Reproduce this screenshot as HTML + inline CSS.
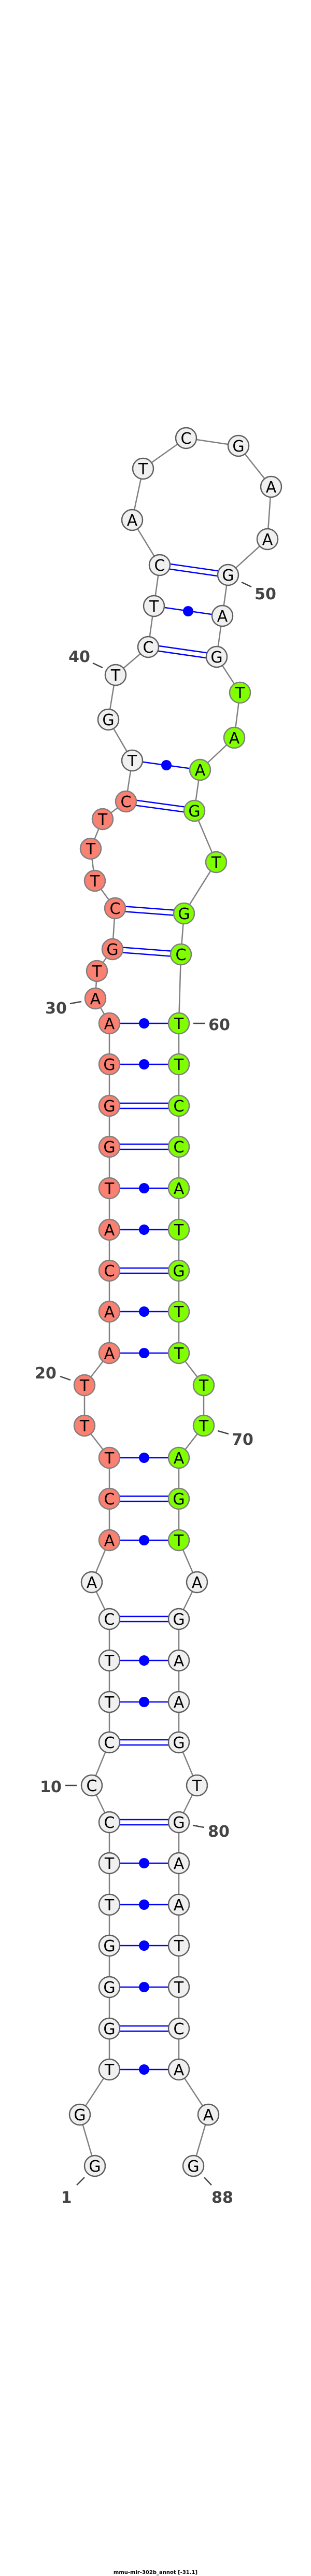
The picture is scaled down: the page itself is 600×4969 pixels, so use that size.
<!DOCTYPE html>
<html><head><meta charset="utf-8"><style>
html,body{margin:0;padding:0;background:#fff;}
svg{display:block;}
.n text{font-family:"DejaVu Sans","Liberation Sans",sans-serif;font-size:30px;text-anchor:middle;fill:#000;}
.lb{font-family:"DejaVu Sans","Liberation Sans",sans-serif;font-size:30px;font-weight:bold;fill:#444;text-anchor:middle;}
</style></head><body>
<svg width="600" height="4969" viewBox="0 0 600 4969" xmlns="http://www.w3.org/2000/svg">
<!-- backbone -->
<polyline fill="none" stroke="#808080" stroke-width="2.5" points="183,4178 154,4079 211,3992 211,3913 211,3833 211,3753 211,3674 211,3594 211,3515 177,3444 211,3361 211,3283 211,3203 211,3123 177,3052 211,2971 211,2891 211,2812 163,2750 163,2672 211,2610 211,2530 211,2451 211,2372 211,2292 211,2212 211,2133 211,2053 211,1974 184,1926 187,1873 217,1831 222,1752 183,1699 175,1637 198,1580 243,1546 255,1467 209,1388 223,1302 286,1248 297,1169 308,1090 255,1003 276,904 359,845 460,860 523,939 516,1040 440,1109 429,1188 418,1267 463,1336 452,1423 386,1485 375,1564 417,1663 355,1762 349,1841 345,1974 345,2053 345,2133 345,2212 345,2292 345,2372 345,2451 345,2530 345,2610 393,2672 393,2750 345,2812 345,2891 345,2971 380,3052 345,3123 345,3203 345,3283 345,3361 380,3444 345,3515 345,3594 345,3674 345,3753 345,3833 345,3913 345,3992 402,4079 373,4178"/>
<!-- pairs: double lines (GC) -->
<g stroke="#0000ff" stroke-width="2.5">
<line x1="211" y1="3908" x2="345" y2="3908"/><line x1="211" y1="3918" x2="345" y2="3918"/>
<line x1="211" y1="3510" x2="345" y2="3510"/><line x1="211" y1="3520" x2="345" y2="3520"/>
<line x1="211" y1="3356" x2="345" y2="3356"/><line x1="211" y1="3366" x2="345" y2="3366"/>
<line x1="211" y1="3118" x2="345" y2="3118"/><line x1="211" y1="3128" x2="345" y2="3128"/>
<line x1="211" y1="2886" x2="345" y2="2886"/><line x1="211" y1="2896" x2="345" y2="2896"/>
<line x1="211" y1="2446" x2="345" y2="2446"/><line x1="211" y1="2456" x2="345" y2="2456"/>
<line x1="211" y1="2207" x2="345" y2="2207"/><line x1="211" y1="2217" x2="345" y2="2217"/>
<line x1="211" y1="2128" x2="345" y2="2128"/><line x1="211" y1="2138" x2="345" y2="2138"/>
<line x1="217" y1="1826" x2="349" y2="1836"/><line x1="217" y1="1836" x2="349" y2="1846"/>
<line x1="222" y1="1747" x2="355" y2="1757"/><line x1="222" y1="1757" x2="355" y2="1767"/>
<line x1="243" y1="1541" x2="375" y2="1559"/><line x1="243" y1="1551" x2="375" y2="1569"/>
<line x1="286" y1="1243" x2="418" y2="1262"/><line x1="286" y1="1253" x2="418" y2="1272"/>
<line x1="308" y1="1085" x2="440" y2="1104"/><line x1="308" y1="1095" x2="440" y2="1114"/>
<!-- single lines (AT / GT) -->
<line x1="211" y1="3992" x2="345" y2="3992"/>
<line x1="211" y1="3833" x2="345" y2="3833"/>
<line x1="211" y1="3753" x2="345" y2="3753"/>
<line x1="211" y1="3674" x2="345" y2="3674"/>
<line x1="211" y1="3594" x2="345" y2="3594"/>
<line x1="211" y1="3283" x2="345" y2="3283"/>
<line x1="211" y1="3203" x2="345" y2="3203"/>
<line x1="211" y1="2971" x2="345" y2="2971"/>
<line x1="211" y1="2812" x2="345" y2="2812"/>
<line x1="211" y1="2610" x2="345" y2="2610"/>
<line x1="211" y1="2530" x2="345" y2="2530"/>
<line x1="211" y1="2372" x2="345" y2="2372"/>
<line x1="211" y1="2292" x2="345" y2="2292"/>
<line x1="211" y1="2053" x2="345" y2="2053"/>
<line x1="211" y1="1974" x2="345" y2="1974"/>
<line x1="255" y1="1467" x2="386" y2="1485"/>
<line x1="297" y1="1169" x2="429" y2="1188"/>
</g>
<g fill="#0000ff">
<circle cx="278" cy="3992" r="10"/><circle cx="278" cy="3833" r="10"/><circle cx="278" cy="3753" r="10"/>
<circle cx="278" cy="3674" r="10"/><circle cx="278" cy="3594" r="10"/><circle cx="278" cy="3283" r="10"/>
<circle cx="278" cy="3203" r="10"/><circle cx="278" cy="2971" r="10"/><circle cx="278" cy="2812" r="10"/>
<circle cx="278" cy="2610" r="10"/><circle cx="278" cy="2530" r="10"/><circle cx="278" cy="2372" r="10"/>
<circle cx="278" cy="2292" r="10"/><circle cx="278" cy="2053" r="10"/><circle cx="278" cy="1974" r="10"/>
<circle cx="321" cy="1476" r="10"/><circle cx="363" cy="1179" r="10"/>
</g>
<!-- nodes: white -->
<g class="n" stroke-width="2.5">
<g fill="#f0f0f0" stroke="#606060">
<circle cx="183" cy="4178" r="20"/><circle cx="154" cy="4079" r="20"/><circle cx="211" cy="3992" r="20"/>
<circle cx="211" cy="3913" r="20"/><circle cx="211" cy="3833" r="20"/><circle cx="211" cy="3753" r="20"/>
<circle cx="211" cy="3674" r="20"/><circle cx="211" cy="3594" r="20"/><circle cx="211" cy="3515" r="20"/>
<circle cx="177" cy="3444" r="20"/><circle cx="211" cy="3361" r="20"/><circle cx="211" cy="3283" r="20"/>
<circle cx="211" cy="3203" r="20"/><circle cx="211" cy="3123" r="20"/><circle cx="177" cy="3052" r="20"/>
<circle cx="255" cy="1467" r="20"/><circle cx="209" cy="1388" r="20"/><circle cx="223" cy="1302" r="20"/>
<circle cx="286" cy="1248" r="20"/><circle cx="297" cy="1169" r="20"/><circle cx="308" cy="1090" r="20"/>
<circle cx="255" cy="1003" r="20"/><circle cx="276" cy="904" r="20"/><circle cx="359" cy="845" r="20"/>
<circle cx="460" cy="860" r="20"/><circle cx="523" cy="939" r="20"/><circle cx="516" cy="1040" r="20"/>
<circle cx="440" cy="1109" r="20"/><circle cx="429" cy="1188" r="20"/><circle cx="418" cy="1267" r="20"/>
<circle cx="380" cy="3052" r="20"/><circle cx="345" cy="3123" r="20"/><circle cx="345" cy="3203" r="20"/>
<circle cx="345" cy="3283" r="20"/><circle cx="345" cy="3361" r="20"/><circle cx="380" cy="3444" r="20"/>
<circle cx="345" cy="3515" r="20"/><circle cx="345" cy="3594" r="20"/><circle cx="345" cy="3674" r="20"/>
<circle cx="345" cy="3753" r="20"/><circle cx="345" cy="3833" r="20"/><circle cx="345" cy="3913" r="20"/>
<circle cx="345" cy="3992" r="20"/><circle cx="402" cy="4079" r="20"/><circle cx="373" cy="4178" r="20"/>
</g>
<g fill="#fa8072" stroke="#808080">
<circle cx="211" cy="2971" r="20"/><circle cx="211" cy="2891" r="20"/><circle cx="211" cy="2812" r="20"/>
<circle cx="163" cy="2750" r="20"/><circle cx="163" cy="2672" r="20"/><circle cx="211" cy="2610" r="20"/>
<circle cx="211" cy="2530" r="20"/><circle cx="211" cy="2451" r="20"/><circle cx="211" cy="2372" r="20"/>
<circle cx="211" cy="2292" r="20"/><circle cx="211" cy="2212" r="20"/><circle cx="211" cy="2133" r="20"/>
<circle cx="211" cy="2053" r="20"/><circle cx="211" cy="1974" r="20"/><circle cx="184" cy="1926" r="20"/>
<circle cx="187" cy="1873" r="20"/><circle cx="217" cy="1831" r="20"/><circle cx="222" cy="1752" r="20"/>
<circle cx="183" cy="1699" r="20"/><circle cx="175" cy="1637" r="20"/><circle cx="198" cy="1580" r="20"/>
<circle cx="243" cy="1546" r="20"/>
</g>
<g fill="#7fff00" stroke="#808080">
<circle cx="463" cy="1336" r="20"/><circle cx="452" cy="1423" r="20"/><circle cx="386" cy="1485" r="20"/>
<circle cx="375" cy="1564" r="20"/><circle cx="417" cy="1663" r="20"/><circle cx="355" cy="1762" r="20"/>
<circle cx="349" cy="1841" r="20"/><circle cx="345" cy="1974" r="20"/><circle cx="345" cy="2053" r="20"/>
<circle cx="345" cy="2133" r="20"/><circle cx="345" cy="2212" r="20"/><circle cx="345" cy="2292" r="20"/>
<circle cx="345" cy="2372" r="20"/><circle cx="345" cy="2451" r="20"/><circle cx="345" cy="2530" r="20"/>
<circle cx="345" cy="2610" r="20"/><circle cx="393" cy="2672" r="20"/><circle cx="393" cy="2750" r="20"/>
<circle cx="345" cy="2812" r="20"/><circle cx="345" cy="2891" r="20"/><circle cx="345" cy="2971" r="20"/>
</g>
<g transform="translate(0,11)">
<text x="183" y="4178">G</text><text x="154" y="4079">G</text><text x="211" y="3992">T</text>
<text x="211" y="3913">G</text><text x="211" y="3833">G</text><text x="211" y="3753">G</text>
<text x="211" y="3674">T</text><text x="211" y="3594">T</text><text x="211" y="3515">C</text>
<text x="177" y="3444">C</text><text x="211" y="3361">C</text><text x="211" y="3283">T</text>
<text x="211" y="3203">T</text><text x="211" y="3123">C</text><text x="177" y="3052">A</text>
<text x="211" y="2971">A</text><text x="211" y="2891">C</text><text x="211" y="2812">T</text>
<text x="163" y="2750">T</text><text x="163" y="2672">T</text><text x="211" y="2610">A</text>
<text x="211" y="2530">A</text><text x="211" y="2451">C</text><text x="211" y="2372">A</text>
<text x="211" y="2292">T</text><text x="211" y="2212">G</text><text x="211" y="2133">G</text>
<text x="211" y="2053">G</text><text x="211" y="1974">A</text><text x="184" y="1926">A</text>
<text x="187" y="1873">T</text><text x="217" y="1831">G</text><text x="222" y="1752">C</text>
<text x="183" y="1699">T</text><text x="175" y="1637">T</text><text x="198" y="1580">T</text>
<text x="243" y="1546">C</text><text x="255" y="1467">T</text><text x="209" y="1388">G</text>
<text x="223" y="1302">T</text><text x="286" y="1248">C</text><text x="297" y="1169">T</text>
<text x="308" y="1090">C</text><text x="255" y="1003">A</text><text x="276" y="904">T</text>
<text x="359" y="845">C</text><text x="460" y="860">G</text><text x="523" y="939">A</text>
<text x="516" y="1040">A</text><text x="440" y="1109">G</text><text x="429" y="1188">A</text>
<text x="418" y="1267">G</text><text x="463" y="1336">T</text><text x="452" y="1423">A</text>
<text x="386" y="1485">A</text><text x="375" y="1564">G</text><text x="417" y="1663">T</text>
<text x="355" y="1762">G</text><text x="349" y="1841">C</text><text x="345" y="1974">T</text>
<text x="345" y="2053">T</text><text x="345" y="2133">C</text><text x="345" y="2212">C</text>
<text x="345" y="2292">A</text><text x="345" y="2372">T</text><text x="345" y="2451">G</text>
<text x="345" y="2530">T</text><text x="345" y="2610">T</text><text x="393" y="2672">T</text>
<text x="393" y="2750">T</text><text x="345" y="2812">A</text><text x="345" y="2891">G</text>
<text x="345" y="2971">T</text><text x="380" y="3052">A</text><text x="345" y="3123">G</text>
<text x="345" y="3203">A</text><text x="345" y="3283">A</text><text x="345" y="3361">G</text>
<text x="380" y="3444">T</text><text x="345" y="3515">G</text><text x="345" y="3594">A</text>
<text x="345" y="3674">A</text><text x="345" y="3753">T</text><text x="345" y="3833">T</text>
<text x="345" y="3913">C</text><text x="345" y="3992">A</text><text x="402" y="4079">A</text>
<text x="373" y="4178">G</text>
</g>
</g>
<!-- number ticks -->
<g stroke="#444" stroke-width="2.5">
<line x1="148" y1="4215" x2="163" y2="4200"/>
<line x1="394" y1="4200" x2="408" y2="4215"/>
<line x1="126" y1="3444" x2="148" y2="3444"/>
<line x1="372" y1="3521" x2="394" y2="3525"/>
<line x1="116" y1="2655" x2="136" y2="2662"/>
<line x1="420" y1="2760" x2="441" y2="2766"/>
<line x1="135" y1="1936" x2="157" y2="1932"/>
<line x1="373" y1="1974" x2="395" y2="1974"/>
<line x1="179" y1="1279" x2="198" y2="1288"/>
<line x1="466" y1="1123" x2="485" y2="1132"/>
</g>
<g class="lb">
<text x="128" y="4249">1</text>
<text x="429" y="4249">88</text>
<text x="98" y="3457">10</text>
<text x="422" y="3543">80</text>
<text x="88" y="2659">20</text>
<text x="468" y="2787">70</text>
<text x="108" y="1955">30</text>
<text x="423" y="1987">60</text>
<text x="153" y="1277">40</text>
<text x="512" y="1156">50</text>
</g>
<text x="300" y="4965" style="font-family:'DejaVu Sans','Liberation Sans',sans-serif;font-size:10px;font-weight:bold;text-anchor:middle;fill:#000">mmu-mir-302b_annot [-31.1]</text>
</svg>
</body></html>
